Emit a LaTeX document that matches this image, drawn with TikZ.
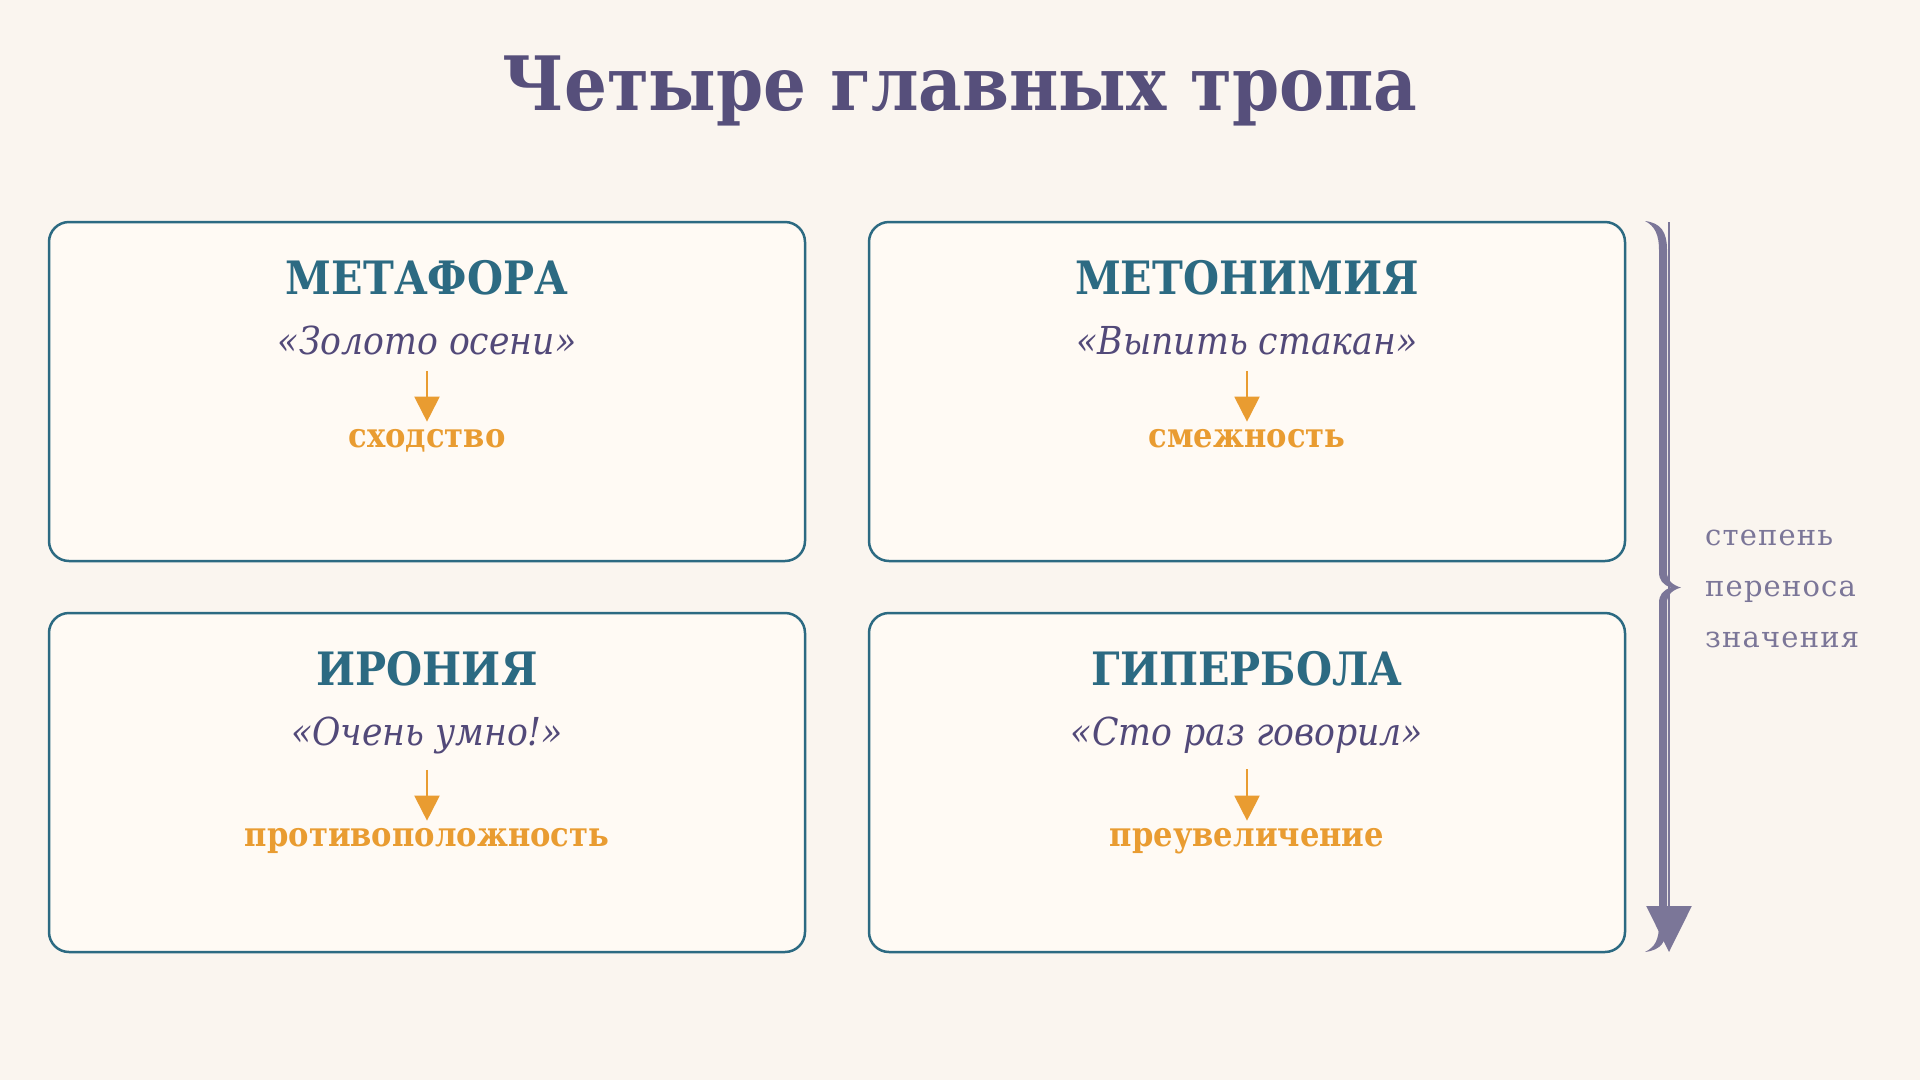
\documentclass[tikz,border=0pt]{standalone}
\usepackage{fontspec}
\setmainfont{DejaVu Serif}
\newfontfamily\condf{DejaVu Serif Condensed}
\newfontfamily\sidef{DejaVu Serif}[LetterSpace=4]
\usetikzlibrary{arrows.meta}
\definecolor{bg}{HTML}{FAF5EF}
\definecolor{card}{HTML}{FFFAF4}
\definecolor{tealc}{HTML}{2C6A82}
\definecolor{plum}{HTML}{564F7B}
\definecolor{exc}{HTML}{524979}
\definecolor{amber}{HTML}{E99C31}
\definecolor{muted}{HTML}{7B7698}
\tikzset{
  cardbox/.style={draw=tealc, line width=2.5pt, fill=card, rounded corners=20pt,
    minimum width=756pt, minimum height=339pt, inner sep=0pt},
  headtxt/.style={anchor=base, inner sep=0pt, text=tealc,
    font=\condf\bfseries\fontsize{46}{54}\selectfont},
  extxt/.style={anchor=base, inner sep=16pt, text=exc,
    font=\condf\itshape\fontsize{38.5}{46}\selectfont},
  labtxt/.style={anchor=base, inner sep=7pt, text=amber,
    font=\condf\bfseries\fontsize{34}{40}\selectfont},
  oarrow/.style={draw=amber, line width=2pt, -{Triangle[width=25pt,length=25pt]}},
  sidetxt/.style={anchor=base west, inner sep=0pt, text=muted,
    font=\sidef\fontsize{29}{34}\selectfont},
}
\begin{document}
\begin{tikzpicture}[x=1pt,y=-1pt]
\fill[bg] (0,0) rectangle (1920,1080);
\useasboundingbox (0,0) rectangle (1920,1080);

\node[anchor=base, inner sep=0pt, text=plum, font=\condf\bfseries\fontsize{75}{90}\selectfont] (title) at (960,110) {Четыре главных тропа};

% cards
\node[cardbox] (c1) at (427,391.5) {};
\node[cardbox] (c2) at (1247,391.5) {};
\node[cardbox] (c3) at (427,782.5) {};
\node[cardbox] (c4) at (1247,782.5) {};

% card 1
\node[headtxt] (h1) at (427,294) {МЕТАФОРА};
\node[extxt] (e1) at (427,354) {«Золото осени»};
\node[labtxt] (l1) at (427,447) {сходство};
\draw[oarrow] (e1.south) -- (l1.north);

% card 2
\node[headtxt] (h2) at (1247,294) {МЕТОНИМИЯ};
\node[extxt] (e2) at (1247,354) {«Выпить стакан»};
\node[labtxt] (l2) at (1247,447) {смежность};
\draw[oarrow] (e2.south) -- (l2.north);

% card 3
\node[headtxt] (h3) at (427,685) {ИРОНИЯ};
\node[extxt] (e3) at (427,745) {«Очень умно!»};
\node[labtxt] (l3) at (427,846) {противоположность};
\draw[oarrow] (e3.south) -- (l3.north);

% card 4
\node[headtxt] (h4) at (1247,685) {ГИПЕРБОЛА};
\node[extxt] (e4) at (1247,745) {«Сто раз говорил»};
\node[labtxt] (l4) at (1247,846) {преувеличение};
\draw[oarrow] (e4.south) -- (l4.north);

% brace
\fill[muted] (1645,221) .. controls (1661,223) and (1667,232) .. (1667,250)
  -- (1667,572) .. controls (1667,580) and (1672,585) .. (1681,587.5)
  .. controls (1672,590) and (1667,595) .. (1667,603)
  -- (1667,924) .. controls (1667,942) and (1661,950) .. (1645,952)
  .. controls (1655,947) and (1659,940) .. (1659,924)
  -- (1659,603) .. controls (1659,595) and (1663,590) .. (1671,587.5)
  .. controls (1663,585) and (1659,580) .. (1659,572)
  -- (1659,250) .. controls (1659,235) and (1655,226) .. (1645,221) -- cycle;

% scale arrow
\coordinate (atop) at (1669,222);
\coordinate (abot) at (1669,952);
\draw[muted, line width=2.5pt, -{Triangle[width=45pt,length=46pt]}] (atop) -- (abot);

% side label
\node[sidetxt] (s1) at (1705,545) {степень};
\node[sidetxt] (s2) at (1705,596) {переноса};
\node[sidetxt] (s3) at (1705,647) {значения};
\end{tikzpicture}
\end{document}
